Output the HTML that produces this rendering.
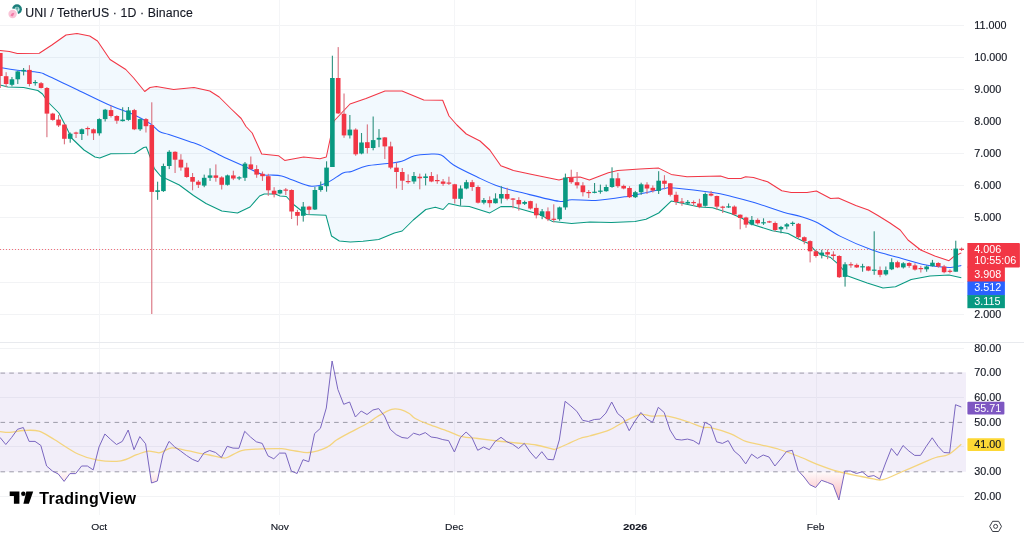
<!DOCTYPE html><html><head><meta charset="utf-8"><style>html,body{margin:0;padding:0;background:#fff;width:1024px;height:534px;overflow:hidden}svg{display:block;will-change:transform}text{font-family:"Liberation Sans",sans-serif}</style></head><body>
<svg width="1024" height="534" viewBox="0 0 1024 534">
<rect width="1024" height="534" fill="#fff"/>
<defs><linearGradient id="osg" gradientUnits="userSpaceOnUse" x1="0" y1="471.6" x2="0" y2="501"><stop offset="0" stop-color="#F23645" stop-opacity="0.02"/><stop offset="1" stop-color="#F23645" stop-opacity="0.38"/></linearGradient></defs>
<line x1="0" y1="25.5" x2="964" y2="25.5" stroke="#F2F3F5" stroke-width="1"/>
<line x1="0" y1="57.5" x2="964" y2="57.5" stroke="#F2F3F5" stroke-width="1"/>
<line x1="0" y1="89.5" x2="964" y2="89.5" stroke="#F2F3F5" stroke-width="1"/>
<line x1="0" y1="121.5" x2="964" y2="121.5" stroke="#F2F3F5" stroke-width="1"/>
<line x1="0" y1="153.5" x2="964" y2="153.5" stroke="#F2F3F5" stroke-width="1"/>
<line x1="0" y1="185.5" x2="964" y2="185.5" stroke="#F2F3F5" stroke-width="1"/>
<line x1="0" y1="217.5" x2="964" y2="217.5" stroke="#F2F3F5" stroke-width="1"/>
<line x1="0" y1="249.5" x2="964" y2="249.5" stroke="#F2F3F5" stroke-width="1"/>
<line x1="0" y1="282.5" x2="964" y2="282.5" stroke="#F2F3F5" stroke-width="1"/>
<line x1="0" y1="314.5" x2="964" y2="314.5" stroke="#F2F3F5" stroke-width="1"/>
<line x1="0" y1="348.5" x2="964" y2="348.5" stroke="#F2F3F5" stroke-width="1"/>
<line x1="0" y1="397.5" x2="964" y2="397.5" stroke="#F2F3F5" stroke-width="1"/>
<line x1="0" y1="446.5" x2="964" y2="446.5" stroke="#F2F3F5" stroke-width="1"/>
<line x1="0" y1="496.5" x2="964" y2="496.5" stroke="#F2F3F5" stroke-width="1"/>
<line x1="99.5" y1="0" x2="99.5" y2="515" stroke="#F4F5F7" stroke-width="1"/>
<line x1="279.5" y1="0" x2="279.5" y2="515" stroke="#F4F5F7" stroke-width="1"/>
<line x1="454.5" y1="0" x2="454.5" y2="515" stroke="#F4F5F7" stroke-width="1"/>
<line x1="635.5" y1="0" x2="635.5" y2="515" stroke="#F4F5F7" stroke-width="1"/>
<line x1="816.5" y1="0" x2="816.5" y2="515" stroke="#F4F5F7" stroke-width="1"/>
<line x1="0" y1="342.5" x2="1024" y2="342.5" stroke="#E8EAEE" stroke-width="1"/>
<polygon points="0.0,50.5 9.4,51.5 17.3,53.5 39.3,53.2 51.9,45.0 66.0,35.0 77.0,33.5 89.7,36.0 97.5,41.0 110.0,59.5 125.8,69.5 133.7,78.0 144.7,91.5 150.0,87.5 156.3,86.5 173.6,89.5 194.0,87.5 209.8,91.0 219.2,97.0 231.8,109.5 241.2,118.5 246.0,126.5 252.2,133.0 261.7,154.0 278.4,155.7 284.7,160.4 303.6,157.0 320.0,158.8 326.3,157.0 334.0,121.0 350.0,104.0 366.0,98.6 385.0,91.0 402.0,91.0 423.8,100.0 442.7,100.3 449.0,116.0 456.9,125.0 466.3,134.0 480.0,141.0 489.8,150.0 500.8,165.7 513.4,170.4 532.2,174.4 559.0,180.0 568.4,177.5 580.0,177.0 589.4,180.0 608.3,172.8 617.8,170.4 639.8,168.9 658.7,168.1 671.2,174.4 687.0,176.7 720.5,176.0 728.3,178.5 740.9,178.5 745.6,176.7 753.5,177.5 767.6,181.8 781.8,190.7 791.2,192.5 807.0,192.5 816.4,191.0 830.6,198.5 838.4,198.0 855.8,205.4 868.4,210.0 877.9,215.5 890.0,223.0 900.2,230.0 908.0,240.0 920.7,250.0 934.8,256.0 949.0,260.7 953.7,256.6 961.3,252.9 961.3,277.8 949.0,275.0 930.0,276.0 911.2,279.5 895.5,286.8 883.0,287.9 867.2,283.0 845.0,275.0 843.3,270.0 838.5,264.3 830.7,257.6 821.2,254.8 815.0,250.5 808.7,243.5 803.8,241.5 796.0,237.7 788.1,233.5 772.4,230.8 751.9,224.3 742.5,218.5 731.5,213.8 712.6,207.7 699.6,207.0 680.7,203.0 671.2,201.1 658.7,213.0 646.0,219.2 635.0,221.6 611.5,222.4 590.0,222.0 571.6,223.5 552.7,221.6 540.0,214.5 511.8,206.6 500.8,206.6 489.8,212.9 469.3,206.6 460.0,206.0 448.7,203.5 443.1,209.5 435.3,207.3 425.8,209.5 413.3,220.0 402.2,231.0 394.4,233.0 378.7,239.5 363.0,241.3 350.3,242.0 339.3,241.0 331.5,236.0 326.0,215.3 306.3,214.5 300.5,210.0 294.2,205.0 286.3,196.5 280.0,196.0 275.3,194.0 264.3,194.0 259.6,196.0 250.0,207.0 237.5,213.0 221.8,211.0 206.0,203.5 193.5,195.5 179.3,185.0 166.7,179.0 160.5,176.0 154.2,168.3 149.4,155.0 146.3,147.0 143.8,147.5 134.4,153.5 110.8,153.7 99.8,158.0 95.0,157.0 84.0,150.0 71.5,138.0 66.7,128.0 58.9,113.0 49.4,103.5 47.2,101.0 42.5,94.0 37.8,90.5 23.6,87.5 7.9,87.0 0.0,85.0" fill="rgba(33,150,243,0.06)"/>
<line x1="0" y1="249.5" x2="966" y2="249.5" stroke="#F23645" stroke-width="1" stroke-dasharray="1,2" opacity="0.7"/>
<polyline points="0.0,50.5 9.4,51.5 17.3,53.5 39.3,53.2 51.9,45.0 66.0,35.0 77.0,33.5 89.7,36.0 97.5,41.0 110.0,59.5 125.8,69.5 133.7,78.0 144.7,91.5 150.0,87.5 156.3,86.5 173.6,89.5 194.0,87.5 209.8,91.0 219.2,97.0 231.8,109.5 241.2,118.5 246.0,126.5 252.2,133.0 261.7,154.0 278.4,155.7 284.7,160.4 303.6,157.0 320.0,158.8 326.3,157.0 334.0,121.0 350.0,104.0 366.0,98.6 385.0,91.0 402.0,91.0 423.8,100.0 442.7,100.3 449.0,116.0 456.9,125.0 466.3,134.0 480.0,141.0 489.8,150.0 500.8,165.7 513.4,170.4 532.2,174.4 559.0,180.0 568.4,177.5 580.0,177.0 589.4,180.0 608.3,172.8 617.8,170.4 639.8,168.9 658.7,168.1 671.2,174.4 687.0,176.7 720.5,176.0 728.3,178.5 740.9,178.5 745.6,176.7 753.5,177.5 767.6,181.8 781.8,190.7 791.2,192.5 807.0,192.5 816.4,191.0 830.6,198.5 838.4,198.0 855.8,205.4 868.4,210.0 877.9,215.5 890.0,223.0 900.2,230.0 908.0,240.0 920.7,250.0 934.8,256.0 949.0,260.7 953.7,256.6 961.3,252.9" fill="none" stroke="#F23645" stroke-width="1.05" stroke-linejoin="round"/>
<path d="M0.0,67.5 C2.6,67.9 9.1,69.2 15.7,70.0 C22.2,70.8 34.0,71.6 39.3,72.5 C44.5,73.4 40.8,72.6 47.2,75.5 C53.6,78.4 67.8,85.2 77.8,90.0 C87.8,94.8 97.6,99.8 107.0,104.0 C116.4,108.2 127.2,111.8 134.4,115.0 C141.6,118.2 145.8,120.8 150.0,123.5 C154.2,126.2 156.2,129.7 159.4,131.5 C162.6,133.3 163.9,132.8 168.9,134.5 C173.9,136.2 184.1,139.7 189.3,141.5 C194.5,143.3 195.3,143.2 200.0,145.3 C204.7,147.4 212.9,151.7 217.6,154.0 C222.3,156.3 223.6,157.0 228.0,159.0 C232.4,161.0 238.0,163.4 243.8,166.0 C249.6,168.6 258.2,173.1 262.7,174.6 C267.2,176.1 267.5,174.8 270.6,175.0 C273.8,175.2 277.9,175.2 281.6,176.0 C285.3,176.8 287.6,178.3 292.6,180.0 C297.6,181.7 305.7,185.8 311.5,186.2 C317.3,186.6 321.9,184.9 327.2,182.7 C332.4,180.5 338.9,174.9 343.0,173.0 C347.1,171.1 347.6,172.7 351.5,171.5 C355.4,170.3 360.5,167.3 366.5,166.0 C372.5,164.7 381.7,164.3 387.6,163.5 C393.5,162.7 397.3,162.6 401.8,161.3 C406.3,160.0 409.9,156.9 414.4,155.7 C418.8,154.5 424.1,154.3 428.5,154.2 C432.9,154.1 436.9,153.2 441.1,155.0 C445.3,156.8 447.6,161.3 453.6,165.0 C459.6,168.7 469.6,173.4 477.2,177.0 C484.8,180.6 491.3,183.9 499.2,186.6 C507.1,189.3 514.4,190.9 524.4,193.3 C534.4,195.8 551.1,200.2 559.0,201.3 C566.9,202.4 565.5,199.8 571.6,199.7 C577.7,199.5 586.4,200.9 595.7,200.4 C605.0,199.9 619.3,197.6 627.2,196.4 C635.1,195.2 636.7,194.6 643.0,193.3 C649.3,192.0 659.8,189.4 665.0,188.5 C670.2,187.6 666.5,187.3 674.4,188.0 C682.3,188.7 703.1,191.1 712.6,192.5 C722.1,193.9 724.4,194.7 731.5,196.4 C738.6,198.1 746.4,200.2 755.0,202.8 C763.6,205.4 775.8,209.9 783.4,212.2 C791.0,214.5 794.9,214.7 800.7,216.5 C806.5,218.3 811.5,219.7 818.0,223.0 C824.5,226.3 831.1,231.6 840.0,236.1 C848.9,240.6 861.8,246.2 871.6,249.8 C881.4,253.4 890.3,255.2 898.7,257.6 C907.1,260.0 915.7,262.7 922.2,264.2 C928.8,265.7 933.3,266.1 938.0,266.6 C942.7,267.1 946.7,267.6 950.6,267.4 C954.5,267.2 959.5,265.7 961.3,265.4" fill="none" stroke="#2962FF" stroke-width="1.05" stroke-linejoin="round"/>
<polyline points="0.0,85.0 7.9,87.0 23.6,87.5 37.8,90.5 42.5,94.0 47.2,101.0 49.4,103.5 58.9,113.0 66.7,128.0 71.5,138.0 84.0,150.0 95.0,157.0 99.8,158.0 110.8,153.7 134.4,153.5 143.8,147.5 146.3,147.0 149.4,155.0 154.2,168.3 160.5,176.0 166.7,179.0 179.3,185.0 193.5,195.5 206.0,203.5 221.8,211.0 237.5,213.0 250.0,207.0 259.6,196.0 264.3,194.0 275.3,194.0 280.0,196.0 286.3,196.5 294.2,205.0 300.5,210.0 306.3,214.5 326.0,215.3 331.5,236.0 339.3,241.0 350.3,242.0 363.0,241.3 378.7,239.5 394.4,233.0 402.2,231.0 413.3,220.0 425.8,209.5 435.3,207.3 443.1,209.5 448.7,203.5 460.0,206.0 469.3,206.6 489.8,212.9 500.8,206.6 511.8,206.6 540.0,214.5 552.7,221.6 571.6,223.5 590.0,222.0 611.5,222.4 635.0,221.6 646.0,219.2 658.7,213.0 671.2,201.1 680.7,203.0 699.6,207.0 712.6,207.7 731.5,213.8 742.5,218.5 751.9,224.3 772.4,230.8 788.1,233.5 796.0,237.7 803.8,241.5 808.7,243.5 815.0,250.5 821.2,254.8 830.7,257.6 838.5,264.3 843.3,270.0 845.0,275.0 867.2,283.0 883.0,287.9 895.5,286.8 911.2,279.5 930.0,276.0 949.0,275.0 961.3,277.8" fill="none" stroke="#089981" stroke-width="1.05" stroke-linejoin="round"/>
<g>
<rect x="-0.25" y="53.0" width="1.1" height="35.0" fill="#D9707E"/>
<rect x="-2.00" y="53.0" width="4.6" height="23.0" fill="#F23645"/>
<rect x="5.58" y="72.2" width="1.1" height="15.0" fill="#D9707E"/>
<rect x="3.83" y="76.2" width="4.6" height="7.8" fill="#F23645"/>
<rect x="11.40" y="77.0" width="1.1" height="9.4" fill="#2F917F"/>
<rect x="9.65" y="79.3" width="4.6" height="5.5" fill="#089981"/>
<rect x="17.23" y="70.7" width="1.1" height="13.3" fill="#2F917F"/>
<rect x="15.48" y="71.4" width="4.6" height="7.9" fill="#089981"/>
<rect x="23.05" y="68.0" width="1.1" height="7.4" fill="#2F917F"/>
<rect x="21.30" y="69.9" width="4.6" height="1.5" fill="#089981"/>
<rect x="28.88" y="65.2" width="1.1" height="21.2" fill="#D9707E"/>
<rect x="27.13" y="69.9" width="4.6" height="14.1" fill="#F23645"/>
<rect x="34.71" y="80.1" width="1.1" height="5.5" fill="#2F917F"/>
<rect x="32.96" y="82.0" width="4.6" height="1.2" fill="#089981"/>
<rect x="40.53" y="82.0" width="1.1" height="6.5" fill="#D9707E"/>
<rect x="38.78" y="83.2" width="4.6" height="4.8" fill="#F23645"/>
<rect x="46.36" y="87.0" width="1.1" height="50.2" fill="#D9707E"/>
<rect x="44.61" y="88.0" width="4.6" height="25.6" fill="#F23645"/>
<rect x="52.18" y="112.8" width="1.1" height="7.9" fill="#D9707E"/>
<rect x="50.43" y="113.6" width="4.6" height="6.3" fill="#F23645"/>
<rect x="58.01" y="115.0" width="1.1" height="12.0" fill="#D9707E"/>
<rect x="56.26" y="119.6" width="4.6" height="5.8" fill="#F23645"/>
<rect x="63.84" y="123.8" width="1.1" height="20.5" fill="#D9707E"/>
<rect x="62.09" y="124.6" width="4.6" height="14.2" fill="#F23645"/>
<rect x="69.66" y="132.5" width="1.1" height="10.2" fill="#2F917F"/>
<rect x="67.91" y="133.7" width="4.6" height="5.1" fill="#089981"/>
<rect x="75.49" y="131.7" width="1.1" height="6.3" fill="#D9707E"/>
<rect x="73.74" y="132.5" width="4.6" height="1.2" fill="#F23645"/>
<rect x="81.31" y="128.5" width="1.1" height="11.5" fill="#2F917F"/>
<rect x="79.56" y="129.3" width="4.6" height="4.7" fill="#089981"/>
<rect x="87.14" y="126.5" width="1.1" height="9.1" fill="#D9707E"/>
<rect x="85.39" y="128.0" width="4.6" height="1.2" fill="#F23645"/>
<rect x="92.97" y="128.5" width="1.1" height="11.5" fill="#D9707E"/>
<rect x="91.22" y="129.3" width="4.6" height="4.0" fill="#F23645"/>
<rect x="98.79" y="118.3" width="1.1" height="17.3" fill="#2F917F"/>
<rect x="97.04" y="119.1" width="4.6" height="14.2" fill="#089981"/>
<rect x="104.62" y="108.9" width="1.1" height="12.6" fill="#2F917F"/>
<rect x="102.87" y="109.7" width="4.6" height="9.4" fill="#089981"/>
<rect x="110.44" y="105.7" width="1.1" height="11.8" fill="#D9707E"/>
<rect x="108.69" y="110.1" width="4.6" height="5.9" fill="#F23645"/>
<rect x="116.27" y="115.2" width="1.1" height="8.6" fill="#D9707E"/>
<rect x="114.52" y="116.0" width="4.6" height="4.7" fill="#F23645"/>
<rect x="122.10" y="107.3" width="1.1" height="14.2" fill="#2F917F"/>
<rect x="120.35" y="119.6" width="4.6" height="1.5" fill="#089981"/>
<rect x="127.92" y="107.0" width="1.1" height="13.7" fill="#2F917F"/>
<rect x="126.17" y="110.4" width="4.6" height="9.5" fill="#089981"/>
<rect x="133.75" y="108.9" width="1.1" height="21.2" fill="#D9707E"/>
<rect x="132.00" y="110.1" width="4.6" height="19.2" fill="#F23645"/>
<rect x="139.57" y="118.3" width="1.1" height="12.6" fill="#2F917F"/>
<rect x="137.82" y="119.1" width="4.6" height="10.2" fill="#089981"/>
<rect x="145.40" y="118.0" width="1.1" height="14.5" fill="#D9707E"/>
<rect x="143.65" y="119.1" width="4.6" height="7.1" fill="#F23645"/>
<rect x="151.23" y="102.3" width="1.1" height="211.7" fill="#D9707E"/>
<rect x="149.48" y="125.0" width="4.6" height="66.9" fill="#F23645"/>
<rect x="157.05" y="181.7" width="1.1" height="18.1" fill="#2F917F"/>
<rect x="155.30" y="190.3" width="4.6" height="1.6" fill="#089981"/>
<rect x="162.88" y="163.6" width="1.1" height="28.3" fill="#2F917F"/>
<rect x="161.13" y="166.0" width="4.6" height="25.1" fill="#089981"/>
<rect x="168.70" y="150.2" width="1.1" height="18.9" fill="#2F917F"/>
<rect x="166.95" y="151.8" width="4.6" height="14.2" fill="#089981"/>
<rect x="174.53" y="151.3" width="1.1" height="21.7" fill="#D9707E"/>
<rect x="172.78" y="151.8" width="4.6" height="7.9" fill="#F23645"/>
<rect x="180.36" y="154.2" width="1.1" height="16.5" fill="#D9707E"/>
<rect x="178.61" y="159.7" width="4.6" height="7.8" fill="#F23645"/>
<rect x="186.18" y="162.8" width="1.1" height="15.0" fill="#D9707E"/>
<rect x="184.43" y="167.5" width="4.6" height="9.5" fill="#F23645"/>
<rect x="192.01" y="173.0" width="1.1" height="17.3" fill="#D9707E"/>
<rect x="190.26" y="177.0" width="4.6" height="4.7" fill="#F23645"/>
<rect x="197.83" y="180.1" width="1.1" height="7.9" fill="#D9707E"/>
<rect x="196.08" y="181.7" width="4.6" height="3.1" fill="#F23645"/>
<rect x="203.66" y="174.6" width="1.1" height="12.6" fill="#2F917F"/>
<rect x="201.91" y="177.8" width="4.6" height="7.8" fill="#089981"/>
<rect x="209.49" y="168.3" width="1.1" height="12.6" fill="#2F917F"/>
<rect x="207.74" y="175.4" width="4.6" height="2.4" fill="#089981"/>
<rect x="215.31" y="164.4" width="1.1" height="17.3" fill="#D9707E"/>
<rect x="213.56" y="175.4" width="4.6" height="2.4" fill="#F23645"/>
<rect x="221.14" y="176.2" width="1.1" height="13.3" fill="#D9707E"/>
<rect x="219.39" y="177.4" width="4.6" height="7.4" fill="#F23645"/>
<rect x="226.96" y="174.6" width="1.1" height="11.0" fill="#2F917F"/>
<rect x="225.21" y="175.4" width="4.6" height="9.4" fill="#089981"/>
<rect x="232.79" y="170.7" width="1.1" height="9.4" fill="#D9707E"/>
<rect x="231.04" y="175.4" width="4.6" height="3.1" fill="#F23645"/>
<rect x="238.62" y="176.2" width="1.1" height="3.9" fill="#2F917F"/>
<rect x="236.87" y="177.3" width="4.6" height="1.2" fill="#089981"/>
<rect x="244.44" y="162.0" width="1.1" height="18.9" fill="#2F917F"/>
<rect x="242.69" y="163.6" width="4.6" height="14.2" fill="#089981"/>
<rect x="250.27" y="156.5" width="1.1" height="13.4" fill="#D9707E"/>
<rect x="248.52" y="164.4" width="4.6" height="4.7" fill="#F23645"/>
<rect x="256.09" y="165.2" width="1.1" height="12.6" fill="#D9707E"/>
<rect x="254.34" y="169.1" width="4.6" height="5.5" fill="#F23645"/>
<rect x="261.92" y="171.5" width="1.1" height="9.4" fill="#D9707E"/>
<rect x="260.17" y="173.8" width="4.6" height="2.4" fill="#F23645"/>
<rect x="267.75" y="173.8" width="1.1" height="22.0" fill="#D9707E"/>
<rect x="266.00" y="176.2" width="4.6" height="14.1" fill="#F23645"/>
<rect x="273.57" y="187.2" width="1.1" height="10.2" fill="#D9707E"/>
<rect x="271.82" y="190.7" width="4.6" height="3.6" fill="#F23645"/>
<rect x="279.40" y="189.5" width="1.1" height="4.8" fill="#2F917F"/>
<rect x="277.65" y="190.0" width="4.6" height="3.5" fill="#089981"/>
<rect x="285.22" y="188.0" width="1.1" height="7.0" fill="#D9707E"/>
<rect x="283.47" y="189.5" width="4.6" height="1.2" fill="#F23645"/>
<rect x="291.05" y="189.3" width="1.1" height="29.7" fill="#D9707E"/>
<rect x="289.30" y="190.0" width="4.6" height="21.5" fill="#F23645"/>
<rect x="296.88" y="209.8" width="1.1" height="15.7" fill="#D9707E"/>
<rect x="295.13" y="212.0" width="4.6" height="3.8" fill="#F23645"/>
<rect x="302.70" y="202.0" width="1.1" height="19.6" fill="#2F917F"/>
<rect x="300.95" y="206.6" width="4.6" height="9.2" fill="#089981"/>
<rect x="308.53" y="205.8" width="1.1" height="8.7" fill="#D9707E"/>
<rect x="306.78" y="206.6" width="4.6" height="3.2" fill="#F23645"/>
<rect x="314.35" y="187.0" width="1.1" height="23.0" fill="#2F917F"/>
<rect x="312.60" y="190.0" width="4.6" height="19.5" fill="#089981"/>
<rect x="320.18" y="181.5" width="1.1" height="10.2" fill="#2F917F"/>
<rect x="318.43" y="186.2" width="4.6" height="3.8" fill="#089981"/>
<rect x="326.01" y="161.3" width="1.1" height="30.4" fill="#2F917F"/>
<rect x="324.26" y="167.6" width="4.6" height="18.6" fill="#089981"/>
<rect x="331.83" y="55.7" width="1.1" height="111.3" fill="#2F917F"/>
<rect x="330.08" y="78.0" width="4.6" height="89.0" fill="#089981"/>
<rect x="337.66" y="47.1" width="1.1" height="66.9" fill="#D9707E"/>
<rect x="335.91" y="78.0" width="4.6" height="35.4" fill="#F23645"/>
<rect x="343.48" y="93.5" width="1.1" height="44.3" fill="#D9707E"/>
<rect x="341.73" y="113.8" width="4.6" height="21.6" fill="#F23645"/>
<rect x="349.31" y="115.0" width="1.1" height="23.5" fill="#2F917F"/>
<rect x="347.56" y="129.6" width="4.6" height="5.8" fill="#089981"/>
<rect x="355.14" y="128.3" width="1.1" height="27.5" fill="#D9707E"/>
<rect x="353.39" y="129.6" width="4.6" height="24.7" fill="#F23645"/>
<rect x="360.96" y="133.0" width="1.1" height="21.3" fill="#2F917F"/>
<rect x="359.21" y="142.5" width="4.6" height="11.0" fill="#089981"/>
<rect x="366.79" y="124.4" width="1.1" height="29.1" fill="#D9707E"/>
<rect x="365.04" y="142.2" width="4.6" height="5.8" fill="#F23645"/>
<rect x="372.61" y="116.5" width="1.1" height="33.8" fill="#2F917F"/>
<rect x="370.86" y="140.1" width="4.6" height="7.9" fill="#089981"/>
<rect x="378.44" y="129.1" width="1.1" height="18.1" fill="#2F917F"/>
<rect x="376.69" y="137.8" width="4.6" height="1.8" fill="#089981"/>
<rect x="384.27" y="137.0" width="1.1" height="22.0" fill="#D9707E"/>
<rect x="382.52" y="137.4" width="4.6" height="9.0" fill="#F23645"/>
<rect x="390.09" y="141.7" width="1.1" height="27.5" fill="#D9707E"/>
<rect x="388.34" y="146.4" width="4.6" height="21.2" fill="#F23645"/>
<rect x="395.92" y="162.6" width="1.1" height="25.9" fill="#D9707E"/>
<rect x="394.17" y="167.6" width="4.6" height="4.4" fill="#F23645"/>
<rect x="401.74" y="168.0" width="1.1" height="22.0" fill="#D9707E"/>
<rect x="399.99" y="172.0" width="4.6" height="8.7" fill="#F23645"/>
<rect x="407.57" y="174.4" width="1.1" height="9.4" fill="#D9707E"/>
<rect x="405.82" y="181.0" width="4.6" height="1.2" fill="#F23645"/>
<rect x="413.40" y="172.0" width="1.1" height="11.8" fill="#2F917F"/>
<rect x="411.65" y="176.0" width="4.6" height="5.5" fill="#089981"/>
<rect x="419.22" y="173.6" width="1.1" height="15.7" fill="#D9707E"/>
<rect x="417.47" y="176.7" width="4.6" height="1.6" fill="#F23645"/>
<rect x="425.05" y="173.6" width="1.1" height="11.8" fill="#2F917F"/>
<rect x="423.30" y="176.4" width="4.6" height="1.6" fill="#089981"/>
<rect x="430.87" y="172.0" width="1.1" height="10.2" fill="#D9707E"/>
<rect x="429.12" y="176.0" width="4.6" height="5.5" fill="#F23645"/>
<rect x="436.70" y="174.4" width="1.1" height="9.4" fill="#D9707E"/>
<rect x="434.95" y="180.0" width="4.6" height="1.2" fill="#F23645"/>
<rect x="442.53" y="179.0" width="1.1" height="6.9" fill="#D9707E"/>
<rect x="440.78" y="181.5" width="4.6" height="2.3" fill="#F23645"/>
<rect x="448.35" y="176.7" width="1.1" height="8.3" fill="#D9707E"/>
<rect x="446.60" y="182.5" width="4.6" height="1.2" fill="#F23645"/>
<rect x="454.18" y="183.8" width="1.1" height="19.7" fill="#D9707E"/>
<rect x="452.43" y="184.3" width="4.6" height="14.5" fill="#F23645"/>
<rect x="460.00" y="185.4" width="1.1" height="20.4" fill="#2F917F"/>
<rect x="458.25" y="188.5" width="4.6" height="10.3" fill="#089981"/>
<rect x="465.83" y="179.9" width="1.1" height="9.4" fill="#2F917F"/>
<rect x="464.08" y="182.2" width="4.6" height="6.3" fill="#089981"/>
<rect x="471.66" y="179.9" width="1.1" height="11.0" fill="#D9707E"/>
<rect x="469.91" y="182.2" width="4.6" height="4.8" fill="#F23645"/>
<rect x="477.48" y="185.4" width="1.1" height="18.1" fill="#D9707E"/>
<rect x="475.73" y="187.0" width="4.6" height="15.7" fill="#F23645"/>
<rect x="483.31" y="198.0" width="1.1" height="6.3" fill="#2F917F"/>
<rect x="481.56" y="200.0" width="4.6" height="2.7" fill="#089981"/>
<rect x="489.13" y="196.4" width="1.1" height="11.0" fill="#D9707E"/>
<rect x="487.38" y="200.0" width="4.6" height="3.2" fill="#F23645"/>
<rect x="494.96" y="193.3" width="1.1" height="10.2" fill="#2F917F"/>
<rect x="493.21" y="198.5" width="4.6" height="4.7" fill="#089981"/>
<rect x="500.79" y="186.2" width="1.1" height="17.3" fill="#2F917F"/>
<rect x="499.04" y="194.0" width="4.6" height="4.5" fill="#089981"/>
<rect x="506.61" y="187.8" width="1.1" height="12.5" fill="#D9707E"/>
<rect x="504.86" y="194.0" width="4.6" height="4.8" fill="#F23645"/>
<rect x="512.44" y="198.0" width="1.1" height="10.2" fill="#D9707E"/>
<rect x="510.69" y="198.5" width="4.6" height="1.2" fill="#F23645"/>
<rect x="518.26" y="197.2" width="1.1" height="13.4" fill="#D9707E"/>
<rect x="516.51" y="200.0" width="4.6" height="4.3" fill="#F23645"/>
<rect x="524.09" y="200.7" width="1.1" height="4.3" fill="#2F917F"/>
<rect x="522.34" y="202.0" width="4.6" height="1.8" fill="#089981"/>
<rect x="529.92" y="200.7" width="1.1" height="8.8" fill="#D9707E"/>
<rect x="528.17" y="201.1" width="4.6" height="7.4" fill="#F23645"/>
<rect x="535.74" y="203.5" width="1.1" height="14.9" fill="#D9707E"/>
<rect x="533.99" y="207.9" width="4.6" height="7.4" fill="#F23645"/>
<rect x="541.57" y="209.0" width="1.1" height="10.2" fill="#2F917F"/>
<rect x="539.82" y="211.3" width="4.6" height="4.7" fill="#089981"/>
<rect x="547.39" y="207.4" width="1.1" height="13.7" fill="#D9707E"/>
<rect x="545.64" y="211.3" width="4.6" height="7.9" fill="#F23645"/>
<rect x="553.22" y="204.3" width="1.1" height="18.1" fill="#D9707E"/>
<rect x="551.47" y="218.7" width="4.6" height="1.2" fill="#F23645"/>
<rect x="559.05" y="206.6" width="1.1" height="14.2" fill="#2F917F"/>
<rect x="557.30" y="207.4" width="4.6" height="11.8" fill="#089981"/>
<rect x="564.87" y="173.6" width="1.1" height="36.2" fill="#2F917F"/>
<rect x="563.12" y="177.5" width="4.6" height="29.9" fill="#089981"/>
<rect x="570.70" y="169.7" width="1.1" height="14.1" fill="#D9707E"/>
<rect x="568.95" y="177.5" width="4.6" height="4.7" fill="#F23645"/>
<rect x="576.52" y="172.0" width="1.1" height="16.5" fill="#D9707E"/>
<rect x="574.77" y="182.2" width="4.6" height="3.2" fill="#F23645"/>
<rect x="582.35" y="182.2" width="1.1" height="14.2" fill="#D9707E"/>
<rect x="580.60" y="185.4" width="4.6" height="6.8" fill="#F23645"/>
<rect x="588.18" y="190.0" width="1.1" height="8.0" fill="#D9707E"/>
<rect x="586.43" y="192.0" width="4.6" height="1.2" fill="#F23645"/>
<rect x="594.00" y="183.0" width="1.1" height="10.3" fill="#2F917F"/>
<rect x="592.25" y="191.7" width="4.6" height="1.2" fill="#089981"/>
<rect x="599.83" y="184.6" width="1.1" height="9.1" fill="#2F917F"/>
<rect x="598.08" y="190.6" width="4.6" height="1.2" fill="#089981"/>
<rect x="605.65" y="184.6" width="1.1" height="7.1" fill="#2F917F"/>
<rect x="603.90" y="187.0" width="4.6" height="4.2" fill="#089981"/>
<rect x="611.48" y="167.3" width="1.1" height="20.5" fill="#2F917F"/>
<rect x="609.73" y="178.3" width="4.6" height="8.7" fill="#089981"/>
<rect x="617.31" y="172.8" width="1.1" height="15.0" fill="#D9707E"/>
<rect x="615.56" y="178.3" width="4.6" height="7.9" fill="#F23645"/>
<rect x="623.13" y="184.6" width="1.1" height="4.7" fill="#D9707E"/>
<rect x="621.38" y="185.9" width="4.6" height="2.6" fill="#F23645"/>
<rect x="628.96" y="186.2" width="1.1" height="11.8" fill="#D9707E"/>
<rect x="627.21" y="188.0" width="4.6" height="9.2" fill="#F23645"/>
<rect x="634.78" y="190.9" width="1.1" height="7.1" fill="#2F917F"/>
<rect x="633.03" y="192.2" width="4.6" height="5.0" fill="#089981"/>
<rect x="640.61" y="182.7" width="1.1" height="12.1" fill="#2F917F"/>
<rect x="638.86" y="184.3" width="4.6" height="7.9" fill="#089981"/>
<rect x="646.44" y="182.2" width="1.1" height="11.8" fill="#D9707E"/>
<rect x="644.69" y="184.6" width="4.6" height="3.9" fill="#F23645"/>
<rect x="652.26" y="185.4" width="1.1" height="7.1" fill="#D9707E"/>
<rect x="650.51" y="187.8" width="4.6" height="2.8" fill="#F23645"/>
<rect x="658.09" y="171.2" width="1.1" height="22.8" fill="#2F917F"/>
<rect x="656.34" y="180.7" width="4.6" height="10.2" fill="#089981"/>
<rect x="663.91" y="175.2" width="1.1" height="14.1" fill="#D9707E"/>
<rect x="662.16" y="180.7" width="4.6" height="3.1" fill="#F23645"/>
<rect x="669.74" y="183.0" width="1.1" height="13.4" fill="#D9707E"/>
<rect x="667.99" y="183.3" width="4.6" height="11.5" fill="#F23645"/>
<rect x="675.57" y="191.7" width="1.1" height="13.3" fill="#D9707E"/>
<rect x="673.82" y="194.8" width="4.6" height="7.1" fill="#F23645"/>
<rect x="681.39" y="198.0" width="1.1" height="7.8" fill="#D9707E"/>
<rect x="679.64" y="201.5" width="4.6" height="1.2" fill="#F23645"/>
<rect x="687.22" y="200.0" width="1.1" height="4.3" fill="#2F917F"/>
<rect x="685.47" y="201.9" width="4.6" height="1.6" fill="#089981"/>
<rect x="693.04" y="200.4" width="1.1" height="5.6" fill="#D9707E"/>
<rect x="691.29" y="202.0" width="4.6" height="1.2" fill="#F23645"/>
<rect x="698.87" y="198.8" width="1.1" height="9.4" fill="#D9707E"/>
<rect x="697.12" y="203.5" width="4.6" height="3.5" fill="#F23645"/>
<rect x="704.70" y="192.5" width="1.1" height="14.1" fill="#2F917F"/>
<rect x="702.95" y="194.0" width="4.6" height="11.8" fill="#089981"/>
<rect x="710.52" y="190.9" width="1.1" height="5.5" fill="#D9707E"/>
<rect x="708.77" y="193.7" width="4.6" height="1.9" fill="#F23645"/>
<rect x="716.35" y="195.6" width="1.1" height="14.2" fill="#D9707E"/>
<rect x="714.60" y="196.0" width="4.6" height="10.6" fill="#F23645"/>
<rect x="722.17" y="205.8" width="1.1" height="7.2" fill="#D9707E"/>
<rect x="720.42" y="206.6" width="4.6" height="1.2" fill="#F23645"/>
<rect x="728.00" y="203.5" width="1.1" height="4.4" fill="#2F917F"/>
<rect x="726.25" y="206.3" width="4.6" height="1.2" fill="#089981"/>
<rect x="733.83" y="205.4" width="1.1" height="9.9" fill="#D9707E"/>
<rect x="732.08" y="206.6" width="4.6" height="7.9" fill="#F23645"/>
<rect x="739.65" y="214.4" width="1.1" height="14.9" fill="#D9707E"/>
<rect x="737.90" y="214.7" width="4.6" height="3.3" fill="#F23645"/>
<rect x="745.48" y="216.7" width="1.1" height="11.1" fill="#D9707E"/>
<rect x="743.73" y="217.5" width="4.6" height="7.1" fill="#F23645"/>
<rect x="751.30" y="216.0" width="1.1" height="9.4" fill="#2F917F"/>
<rect x="749.55" y="219.9" width="4.6" height="4.7" fill="#089981"/>
<rect x="757.13" y="218.3" width="1.1" height="6.3" fill="#D9707E"/>
<rect x="755.38" y="219.9" width="4.6" height="3.4" fill="#F23645"/>
<rect x="762.96" y="218.3" width="1.1" height="6.6" fill="#2F917F"/>
<rect x="761.21" y="222.2" width="4.6" height="1.2" fill="#089981"/>
<rect x="768.78" y="220.7" width="1.1" height="2.3" fill="#D9707E"/>
<rect x="767.03" y="221.3" width="4.6" height="1.2" fill="#F23645"/>
<rect x="774.61" y="221.5" width="1.1" height="10.2" fill="#D9707E"/>
<rect x="772.86" y="223.0" width="4.6" height="7.0" fill="#F23645"/>
<rect x="780.43" y="225.9" width="1.1" height="7.4" fill="#2F917F"/>
<rect x="778.68" y="227.0" width="4.6" height="2.3" fill="#089981"/>
<rect x="786.26" y="223.0" width="1.1" height="6.3" fill="#2F917F"/>
<rect x="784.51" y="224.3" width="4.6" height="2.2" fill="#089981"/>
<rect x="792.09" y="221.5" width="1.1" height="4.4" fill="#2F917F"/>
<rect x="790.34" y="222.8" width="4.6" height="1.2" fill="#089981"/>
<rect x="797.91" y="223.0" width="1.1" height="15.8" fill="#D9707E"/>
<rect x="796.16" y="223.8" width="4.6" height="13.4" fill="#F23645"/>
<rect x="803.74" y="236.4" width="1.1" height="7.9" fill="#D9707E"/>
<rect x="801.99" y="237.2" width="4.6" height="3.9" fill="#F23645"/>
<rect x="809.56" y="240.3" width="1.1" height="22.1" fill="#D9707E"/>
<rect x="807.81" y="241.1" width="4.6" height="10.2" fill="#F23645"/>
<rect x="815.39" y="249.8" width="1.1" height="7.8" fill="#D9707E"/>
<rect x="813.64" y="251.3" width="4.6" height="4.7" fill="#F23645"/>
<rect x="821.22" y="249.8" width="1.1" height="8.6" fill="#2F917F"/>
<rect x="819.47" y="252.6" width="4.6" height="2.7" fill="#089981"/>
<rect x="827.04" y="249.5" width="1.1" height="9.7" fill="#D9707E"/>
<rect x="825.29" y="252.1" width="4.6" height="2.4" fill="#F23645"/>
<rect x="832.87" y="251.3" width="1.1" height="8.7" fill="#D9707E"/>
<rect x="831.12" y="254.5" width="4.6" height="1.5" fill="#F23645"/>
<rect x="838.69" y="255.2" width="1.1" height="22.8" fill="#D9707E"/>
<rect x="836.94" y="256.0" width="4.6" height="21.2" fill="#F23645"/>
<rect x="844.52" y="262.2" width="1.1" height="24.4" fill="#2F917F"/>
<rect x="842.77" y="264.3" width="4.6" height="12.6" fill="#089981"/>
<rect x="850.35" y="262.2" width="1.1" height="5.6" fill="#D9707E"/>
<rect x="848.60" y="264.2" width="4.6" height="1.2" fill="#F23645"/>
<rect x="856.17" y="263.5" width="1.1" height="4.5" fill="#D9707E"/>
<rect x="854.42" y="264.9" width="4.6" height="2.5" fill="#F23645"/>
<rect x="862.00" y="263.8" width="1.1" height="7.9" fill="#2F917F"/>
<rect x="860.25" y="266.2" width="4.6" height="1.2" fill="#089981"/>
<rect x="867.82" y="266.0" width="1.1" height="5.2" fill="#D9707E"/>
<rect x="866.07" y="266.5" width="4.6" height="4.1" fill="#F23645"/>
<rect x="873.65" y="231.3" width="1.1" height="43.5" fill="#2F917F"/>
<rect x="871.90" y="269.6" width="4.6" height="1.2" fill="#089981"/>
<rect x="879.48" y="266.5" width="1.1" height="10.7" fill="#D9707E"/>
<rect x="877.73" y="270.1" width="4.6" height="4.7" fill="#F23645"/>
<rect x="885.30" y="266.5" width="1.1" height="9.1" fill="#2F917F"/>
<rect x="883.55" y="270.1" width="4.6" height="4.3" fill="#089981"/>
<rect x="891.13" y="258.3" width="1.1" height="11.8" fill="#2F917F"/>
<rect x="889.38" y="262.2" width="4.6" height="7.1" fill="#089981"/>
<rect x="896.95" y="260.7" width="1.1" height="7.4" fill="#D9707E"/>
<rect x="895.20" y="262.2" width="4.6" height="5.2" fill="#F23645"/>
<rect x="902.78" y="262.2" width="1.1" height="6.3" fill="#2F917F"/>
<rect x="901.03" y="263.3" width="4.6" height="4.1" fill="#089981"/>
<rect x="908.61" y="262.2" width="1.1" height="5.6" fill="#D9707E"/>
<rect x="906.86" y="263.0" width="4.6" height="2.9" fill="#F23645"/>
<rect x="914.43" y="263.3" width="1.1" height="7.3" fill="#D9707E"/>
<rect x="912.68" y="265.4" width="4.6" height="4.2" fill="#F23645"/>
<rect x="920.26" y="265.9" width="1.1" height="6.6" fill="#D9707E"/>
<rect x="918.51" y="268.0" width="4.6" height="1.2" fill="#F23645"/>
<rect x="926.08" y="265.4" width="1.1" height="6.3" fill="#2F917F"/>
<rect x="924.33" y="266.5" width="4.6" height="2.8" fill="#089981"/>
<rect x="931.91" y="259.9" width="1.1" height="6.6" fill="#2F917F"/>
<rect x="930.16" y="262.7" width="4.6" height="3.5" fill="#089981"/>
<rect x="937.74" y="262.2" width="1.1" height="5.6" fill="#D9707E"/>
<rect x="935.99" y="263.0" width="4.6" height="3.5" fill="#F23645"/>
<rect x="943.56" y="264.9" width="1.1" height="8.4" fill="#D9707E"/>
<rect x="941.81" y="266.5" width="4.6" height="5.7" fill="#F23645"/>
<rect x="949.39" y="269.3" width="1.1" height="4.0" fill="#D9707E"/>
<rect x="947.64" y="270.7" width="4.6" height="1.2" fill="#F23645"/>
<rect x="955.21" y="240.7" width="1.1" height="31.0" fill="#2F917F"/>
<rect x="953.46" y="248.6" width="4.6" height="23.1" fill="#089981"/>
<rect x="961.04" y="247.5" width="1.1" height="3.5" fill="#D9707E"/>
<rect x="959.29" y="248.7" width="4.6" height="1.2" fill="#F23645"/>
</g>
<rect x="0" y="372.3" width="966" height="99.5" fill="rgba(126,87,194,0.1)"/>
<line x1="0" y1="373.1" x2="966" y2="373.1" stroke="#9C9BA8" stroke-width="1" stroke-dasharray="4.6,4.18" stroke-dashoffset="-0.5"/>
<line x1="0" y1="422.4" x2="966" y2="422.4" stroke="#9C9BA8" stroke-width="1" stroke-dasharray="4.6,4.18" stroke-dashoffset="-0.5"/>
<line x1="0" y1="471.8" x2="966" y2="471.8" stroke="#9C9BA8" stroke-width="1" stroke-dasharray="4.6,4.18" stroke-dashoffset="-0.5"/>
<polygon points="53.6,471.6 58.3,474.0 64.1,481.4 69.9,473.6 75.7,473.6 77.3,471.6" fill="url(#osg)"/>
<polygon points="149.8,471.6 151.5,483.0 157.3,481.0 159.3,471.6" fill="url(#osg)"/>
<polygon points="292.7,471.6 297.1,473.5 297.9,471.6" fill="url(#osg)"/>
<polygon points="799.0,471.6 804.0,477.0 809.8,484.7 815.6,487.5 821.5,480.3 827.3,482.4 833.1,484.7 838.9,500.0 844.6,471.6" fill="url(#osg)"/>
<polygon points="852.0,471.6 856.4,473.5 862.2,471.8 868.1,476.6 873.9,475.6 879.7,479.0 882.4,471.6" fill="url(#osg)"/>
<path d="M0.0,431.6 C1.6,431.7 5.9,432.6 9.8,432.4 C13.7,432.2 18.5,430.7 23.4,430.5 C28.3,430.3 33.8,429.6 39.0,431.2 C44.2,432.8 48.2,436.0 54.7,439.8 C61.2,443.6 70.8,450.6 78.0,454.0 C85.2,457.4 90.5,459.1 97.7,460.2 C104.9,461.3 114.5,461.7 121.0,460.8 C127.5,459.9 132.1,456.3 136.7,454.7 C141.3,453.1 144.5,451.5 148.4,451.2 C152.3,450.9 156.1,453.3 160.0,452.7 C163.9,452.1 167.3,448.1 171.9,447.8 C176.5,447.5 182.8,449.8 187.5,450.7 C192.2,451.6 196.1,452.6 199.8,453.3 C203.5,454.0 205.9,454.3 209.5,455.0 C213.1,455.7 218.4,457.1 221.3,457.5 C224.2,457.9 223.5,458.7 227.1,457.5 C230.7,456.3 236.8,451.7 242.7,450.3 C248.6,448.9 255.8,449.2 262.3,448.9 C268.8,448.6 276.3,448.3 281.8,448.7 C287.3,449.1 290.9,450.4 295.5,451.0 C300.1,451.6 303.9,453.1 309.1,452.5 C314.3,451.9 322.1,449.4 326.7,447.3 C331.3,445.2 332.6,442.5 336.5,440.0 C340.4,437.5 345.3,435.0 350.2,432.4 C355.1,429.8 361.2,426.9 365.8,424.3 C370.4,421.7 373.2,419.0 377.5,416.5 C381.8,414.0 387.7,410.4 391.7,409.3 C395.7,408.2 398.6,409.1 401.5,409.8 C404.4,410.5 407.0,412.1 409.3,413.5 C411.6,414.9 411.9,416.7 415.2,418.5 C418.4,420.3 423.3,422.2 428.8,424.3 C434.3,426.4 442.9,429.2 448.4,431.3 C453.9,433.4 457.1,435.4 462.0,436.6 C466.9,437.8 471.8,437.8 477.7,438.5 C483.6,439.2 490.7,440.2 497.2,441.0 C503.7,441.8 510.2,442.3 516.7,443.0 C523.2,443.7 530.4,444.0 536.3,445.0 C542.2,446.0 548.6,448.2 551.9,448.9 C555.1,449.6 553.2,449.8 555.8,449.0 C558.4,448.2 563.5,445.8 567.5,444.0 C571.5,442.2 576.3,439.8 580.0,438.5 C583.7,437.2 584.7,437.4 589.5,436.0 C594.3,434.6 603.1,432.6 609.0,430.1 C614.9,427.7 619.5,423.9 624.7,421.3 C629.9,418.7 635.8,415.4 640.3,414.5 C644.8,413.6 647.4,415.8 652.0,416.1 C656.6,416.4 661.8,415.2 667.7,416.1 C673.6,417.0 681.4,419.6 687.2,421.5 C693.1,423.4 698.9,426.3 702.8,427.3 C706.7,428.3 706.0,426.6 710.6,427.7 C715.2,428.8 724.3,431.3 730.2,433.6 C736.1,435.9 740.8,439.6 745.8,441.4 C750.8,443.2 754.4,443.2 760.0,444.6 C765.6,446.0 773.0,447.5 779.5,449.5 C786.0,451.5 792.5,453.9 799.0,456.5 C805.5,459.1 812.1,462.3 818.6,464.8 C825.1,467.3 831.6,469.7 838.1,471.5 C844.6,473.3 851.8,474.6 857.7,475.8 C863.6,477.0 869.1,478.2 873.3,478.8 C877.5,479.4 878.1,480.8 883.0,479.6 C887.9,478.4 896.1,474.2 902.6,471.5 C909.1,468.8 916.6,465.5 922.1,463.2 C927.6,460.9 931.4,458.9 935.8,457.5 C940.2,456.1 944.2,456.7 948.5,454.5 C952.8,452.3 959.2,446.0 961.3,444.3" fill="none" stroke="#F4D47E" stroke-width="1.3" stroke-linejoin="round"/>
<polyline points="0.0,437.4 5.8,444.5 11.7,437.4 17.5,429.3 23.3,427.5 29.1,441.4 35.0,441.4 40.8,445.4 46.6,466.0 52.4,471.0 58.3,474.0 64.1,481.4 69.9,473.6 75.7,473.6 81.6,466.0 87.4,466.0 93.2,469.9 99.0,447.0 104.9,434.0 110.7,439.5 116.5,444.5 122.3,441.4 128.2,430.0 134.0,449.7 139.8,436.6 145.6,443.8 151.5,483.0 157.3,481.0 163.1,454.0 169.0,441.4 174.8,447.0 180.6,451.0 186.4,455.4 192.3,459.3 198.1,461.7 203.9,453.0 209.7,450.5 215.6,452.5 221.4,457.5 227.2,446.3 233.0,448.1 238.9,448.3 244.7,431.3 250.5,437.0 256.3,441.8 262.2,443.4 268.0,455.9 273.8,458.8 279.6,453.1 285.5,453.1 291.3,471.0 297.1,473.5 303.0,459.7 308.8,461.7 314.6,433.6 320.4,428.3 326.3,408.0 332.1,361.0 337.9,389.5 343.7,404.3 349.6,402.0 355.4,417.0 361.2,411.0 367.0,414.5 372.9,410.0 378.7,408.6 384.5,416.0 390.3,429.3 396.2,434.6 402.0,437.5 407.8,438.3 413.6,433.2 419.5,435.0 425.3,432.6 431.1,437.0 436.9,437.8 442.8,439.6 448.6,440.6 454.4,452.0 460.3,437.8 466.1,432.0 471.9,437.5 477.7,450.3 483.6,447.0 489.4,449.7 495.2,441.4 501.0,437.3 506.9,441.8 512.7,444.3 518.5,448.5 524.3,443.4 530.2,452.0 536.0,458.6 541.8,451.7 547.6,459.3 553.5,459.8 559.3,440.0 565.1,401.3 570.9,406.0 576.8,411.3 582.6,420.3 588.4,421.5 594.3,419.5 600.1,419.1 605.9,413.1 611.7,402.0 617.6,413.5 623.4,418.3 629.2,430.7 635.0,421.0 640.9,412.5 646.7,419.0 652.5,422.3 658.3,407.3 664.2,412.5 670.0,430.0 675.8,439.3 681.6,440.0 687.5,439.1 693.3,440.6 699.1,444.3 704.9,422.3 710.8,425.3 716.6,441.8 722.4,443.4 728.2,440.6 734.1,451.0 739.9,455.9 745.7,463.9 751.6,454.2 757.4,458.4 763.2,455.0 769.0,457.0 774.9,466.0 780.7,459.0 786.5,451.5 792.3,450.3 798.2,470.7 804.0,477.0 809.8,484.7 815.6,487.5 821.5,480.3 827.3,482.4 833.1,484.7 838.9,500.0 844.8,471.0 850.6,471.0 856.4,473.5 862.2,471.8 868.1,476.6 873.9,475.6 879.7,479.0 885.6,463.0 891.4,448.5 897.2,455.5 903.0,445.5 908.9,451.0 914.7,455.4 920.5,455.4 926.3,446.3 932.2,437.8 938.0,446.3 943.8,452.5 949.6,452.9 955.5,404.7 961.3,407.0" fill="none" stroke="#7A66C0" stroke-width="1" stroke-linejoin="round"/>
<text transform="translate(974.30,28.80) scale(1.08,1)" x="0" y="0" font-size="10" fill="#131722" stroke="#131722" stroke-width="0.14">11.000</text>
<text transform="translate(974.30,60.90) scale(1.08,1)" x="0" y="0" font-size="10" fill="#131722" stroke="#131722" stroke-width="0.14">10.000</text>
<text transform="translate(974.30,93.00) scale(1.08,1)" x="0" y="0" font-size="10" fill="#131722" stroke="#131722" stroke-width="0.14">9.000</text>
<text transform="translate(974.30,125.10) scale(1.08,1)" x="0" y="0" font-size="10" fill="#131722" stroke="#131722" stroke-width="0.14">8.000</text>
<text transform="translate(974.30,157.20) scale(1.08,1)" x="0" y="0" font-size="10" fill="#131722" stroke="#131722" stroke-width="0.14">7.000</text>
<text transform="translate(974.30,189.30) scale(1.08,1)" x="0" y="0" font-size="10" fill="#131722" stroke="#131722" stroke-width="0.14">6.000</text>
<text transform="translate(974.30,221.40) scale(1.08,1)" x="0" y="0" font-size="10" fill="#131722" stroke="#131722" stroke-width="0.14">5.000</text>
<text transform="translate(974.30,317.70) scale(1.08,1)" x="0" y="0" font-size="10" fill="#131722" stroke="#131722" stroke-width="0.14">2.000</text>
<text transform="translate(974.30,351.60) scale(1.08,1)" x="0" y="0" font-size="10" fill="#131722" stroke="#131722" stroke-width="0.14">80.00</text>
<text transform="translate(974.30,376.40) scale(1.08,1)" x="0" y="0" font-size="10" fill="#131722" stroke="#131722" stroke-width="0.14">70.00</text>
<text transform="translate(974.30,400.90) scale(1.08,1)" x="0" y="0" font-size="10" fill="#131722" stroke="#131722" stroke-width="0.14">60.00</text>
<text transform="translate(974.30,425.70) scale(1.08,1)" x="0" y="0" font-size="10" fill="#131722" stroke="#131722" stroke-width="0.14">50.00</text>
<text transform="translate(974.30,475.20) scale(1.08,1)" x="0" y="0" font-size="10" fill="#131722" stroke="#131722" stroke-width="0.14">30.00</text>
<text transform="translate(974.30,499.70) scale(1.08,1)" x="0" y="0" font-size="10" fill="#131722" stroke="#131722" stroke-width="0.14">20.00</text>
<path d="M967.4,243 H1018.9 a1,1 0 0 1 1,1 V266.6 a1,1 0 0 1 -1,1 H967.4 Z" fill="#F23645"/>
<rect x="967.4" y="266.6" width="37.5" height="15.4" fill="#F23645"/>
<rect x="967.4" y="281.5" width="37.5" height="14.1" fill="#2962FF"/>
<rect x="967.4" y="295.1" width="37.5" height="13.1" fill="#089981"/>
<text transform="translate(974.30,252.80) scale(1.08,1)" x="0" y="0" font-size="10" fill="#fff">4.006</text>
<text transform="translate(974.30,263.80) scale(1.08,1)" x="0" y="0" font-size="10" fill="#fff">10:55:06</text>
<text transform="translate(974.30,277.60) scale(1.08,1)" x="0" y="0" font-size="10" fill="#fff">3.908</text>
<text transform="translate(974.30,291.40) scale(1.08,1)" x="0" y="0" font-size="10" fill="#fff">3.512</text>
<text transform="translate(974.30,304.60) scale(1.08,1)" x="0" y="0" font-size="10" fill="#fff">3.115</text>
<rect x="967.4" y="401.8" width="37" height="12.7" rx="1" fill="#7E57C2"/>
<text transform="translate(974.30,411.80) scale(1.08,1)" x="0" y="0" font-size="10" fill="#fff">55.71</text>
<rect x="967.4" y="438.2" width="37.2" height="12.8" rx="1" fill="#FDD835"/>
<text transform="translate(974.30,448.30) scale(1.08,1)" x="0" y="0" font-size="10" fill="#131722" stroke="#131722" stroke-width="0.14">41.00</text>
<text transform="translate(99.20,530.20) scale(1.06,1)" x="0" y="0" font-size="9.7" fill="#131722" stroke="#131722" stroke-width="0.14" text-anchor="middle">Oct</text>
<text transform="translate(279.80,530.20) scale(1.06,1)" x="0" y="0" font-size="9.7" fill="#131722" stroke="#131722" stroke-width="0.14" text-anchor="middle">Nov</text>
<text transform="translate(454.20,530.20) scale(1.06,1)" x="0" y="0" font-size="9.7" fill="#131722" stroke="#131722" stroke-width="0.14" text-anchor="middle">Dec</text>
<text transform="translate(635.20,530.20) scale(1.12,1)" x="0" y="0" font-size="9.7" fill="#131722" stroke="#131722" stroke-width="0.14" text-anchor="middle" font-weight="bold">2026</text>
<text transform="translate(815.70,530.20) scale(1.06,1)" x="0" y="0" font-size="9.7" fill="#131722" stroke="#131722" stroke-width="0.14" text-anchor="middle">Feb</text>
<g transform="translate(995.6,526.4)" fill="none" stroke="#3A3D45" stroke-width="1"><polygon points="-5.9,0 -3,-5.1 3,-5.1 5.9,0 3,5.1 -3,5.1" stroke-linejoin="miter"/><circle cx="0" cy="0" r="2"/></g>
<circle cx="17" cy="9.2" r="4.9" fill="#1C7F7B"/>
<circle cx="17" cy="9.2" r="2.5" fill="#BFE3E0"/>
<rect x="15.6" y="7.6" width="2.8" height="0.9" fill="#3C9A95"/><rect x="16.6" y="7.6" width="0.9" height="3.6" fill="#3C9A95"/>
<circle cx="12.6" cy="14" r="5.4" fill="#fff"/>
<circle cx="12.6" cy="14" r="4.2" fill="#F9C3D6"/>
<path d="M10.4,15.6 Q12.2,11.6 14.3,13.2 Q13.6,15.6 12.4,16.4 Z" fill="#F27AA8"/>
<text x="25.2" y="16.8" font-size="12.3" letter-spacing="0.11" fill="#131722" stroke="#131722" stroke-width="0.12">UNI / TetherUS · 1D · Binance</text>
<g fill="#000"><path d="M9.7,491.5 H19.4 V503.7 H13.9 V496.1 H9.7 Z"/><circle cx="23.3" cy="493.8" r="2.2"/><path d="M26.3,491.5 H33.2 L28.9,503.7 H23.4 Z"/></g>
<text x="39.3" y="503.8" font-size="16" letter-spacing="0.28" font-weight="bold" fill="#000">TradingView</text>
</svg></body></html>
